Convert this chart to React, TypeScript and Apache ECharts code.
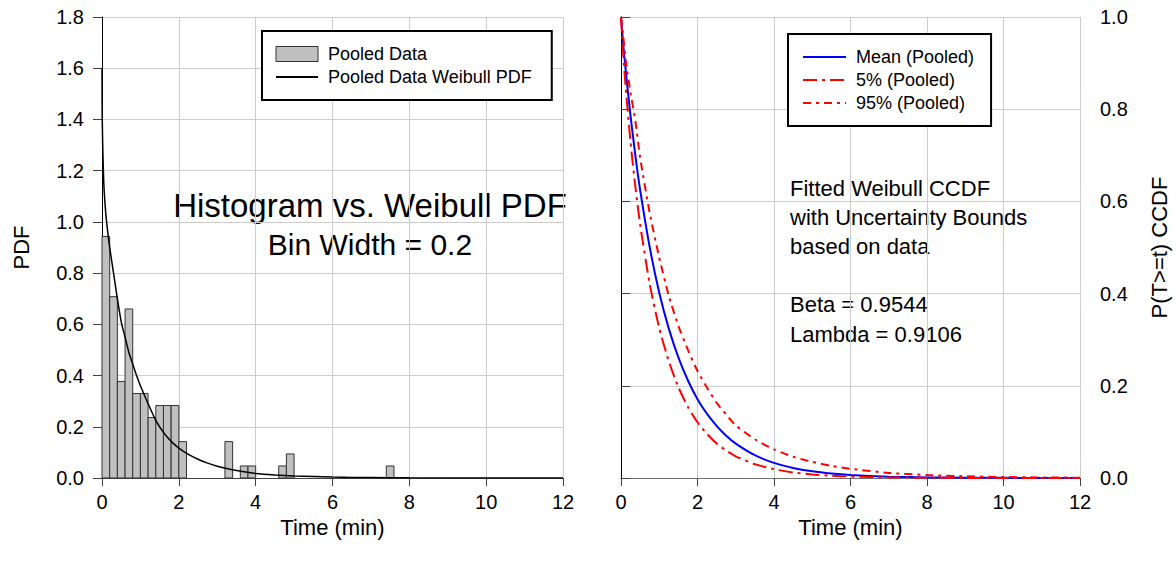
import React, { useEffect, useRef } from "react";
import * as echarts from "echarts";

const FONT = "'Liberation Sans', Arial, Helvetica, sans-serif";

// Histogram (bin width 0.2) – left edge of bin and density
const BIN_WIDTH = 0.2;
const binStarts = [0, 0.2, 0.4, 0.6, 0.8, 1.0, 1.2, 1.4, 1.6, 1.8, 2.0, 3.2, 3.6, 3.8, 4.6, 4.8, 7.4];
const binDensity = [0.943, 0.708, 0.377, 0.660, 0.330, 0.330, 0.236, 0.283, 0.283, 0.283, 0.142, 0.142, 0.047, 0.047, 0.047, 0.094, 0.047];

// Weibull PDF curve
const pdfT = [0, 0.005, 0.02, 0.05, 0.1, 0.15, 0.2, 0.3, 0.4, 0.5, 0.6, 0.7, 0.8, 0.9, 1.0, 1.2, 1.4, 1.6, 1.8, 2.0, 2.25, 2.5, 2.75, 3.0, 3.5, 4.0, 4.5, 5.0, 6.0, 7.0, 8.0, 10, 12];
const pdfV = [1.6, 1.42, 1.29, 1.14, 1.03, 0.96, 0.9, 0.8, 0.7, 0.61, 0.55, 0.49, 0.445, 0.4, 0.36, 0.29, 0.225, 0.178, 0.143, 0.117, 0.092, 0.073, 0.058, 0.046, 0.029, 0.018, 0.012, 0.008, 0.0035, 0.0016, 0.0007, 0.0002, 0.00005];

// CCDF curves
const ccdfT = [0, 0.05, 0.125, 0.25, 0.375, 0.5, 0.75, 1, 1.25, 1.5, 1.75, 2, 2.25, 2.5, 2.75, 3, 3.5, 4, 4.5, 5, 5.5, 6, 7, 8, 9, 10, 11, 12];
const ccdfMean = [1, 0.949, 0.883, 0.785, 0.7, 0.625, 0.501, 0.402, 0.324, 0.2615, 0.2115, 0.171, 0.139, 0.113, 0.0915, 0.0746, 0.0494, 0.0328, 0.0218, 0.0145, 0.0097, 0.0065, 0.0029, 0.0013, 0.0006, 0.0003, 0.00013, 0.00006];
const ccdf5 = [1, 0.929, 0.845, 0.728, 0.632, 0.55, 0.421, 0.325, 0.253, 0.197, 0.154, 0.121, 0.0953, 0.075, 0.0594, 0.047, 0.03, 0.019, 0.012, 0.0077, 0.005, 0.0032, 0.0013, 0.0006, 0.0002, 0.0001, 0.00005, 0.00002];
const ccdf95 = [1, 0.965, 0.905, 0.835, 0.775, 0.695, 0.575, 0.478, 0.395, 0.33, 0.278, 0.232, 0.196, 0.163, 0.138, 0.114, 0.084, 0.062, 0.046, 0.035, 0.026, 0.02, 0.011, 0.0065, 0.0037, 0.0021, 0.0012, 0.0007];

const xTicks = { min: 0, max: 12, interval: 2 };
const leftY = { min: 0, max: 1.8, interval: 0.2 };
const rightY = { min: 0, max: 1, interval: 0.2 };

const leftNotes = ["Histogram vs. Weibull PDF", "Bin Width = 0.2"];
const rightNotes = ["Fitted Weibull CCDF", "with Uncertainty Bounds", "based on data", "", "Beta = 0.9544", "Lambda = 0.9106"];

const zip = (a: number[], b: number[]) => a.map((v, i) => [v, b[i]]);

export default function App() {
  const ref = useRef<HTMLDivElement>(null);
  useEffect(() => {
    if (!ref.current) return;
    const chart = echarts.init(ref.current, undefined, { renderer: "svg" });
    const gridLine = { show: true, lineStyle: { color: "#cccccc", width: 1 } };
    const tickLabel = { fontSize: 20, color: "#000", fontFamily: FONT };
    const nameStyle = { fontSize: 22, color: "#000", fontFamily: FONT };
    const noSymbol = { color: "rgba(0,0,0,0)", borderWidth: 0, opacity: 0 };
    const xAxisBase = (gridIndex: number) => ({
      gridIndex,
      type: "value",
      ...xTicks,
      axisLine: { show: true, onZero: false, lineStyle: { color: "#404040", width: 1 } },
      axisTick: { show: true, length: 8, lineStyle: { color: "#404040" } },
      axisLabel: { ...tickLabel, margin: 14 },
      splitLine: gridLine,
      name: "Time (min)",
      nameLocation: "middle",
      nameGap: 27,
      nameTextStyle: nameStyle,
    });
    const option: any = {
      animation: false,
      backgroundColor: "#fff",
      grid: [
        { left: 102, top: 17, width: 461, height: 461 },
        { left: 621, top: 17, width: 459, height: 461 },
      ],
      xAxis: [
        xAxisBase(0),
        xAxisBase(1),
        {
          gridIndex: 1, type: "value", position: "top", ...xTicks,
          axisLine: { show: true, lineStyle: { color: "#707070" } },
          axisTick: { show: false }, axisLabel: { show: false }, splitLine: { show: false },
        },
      ],
      yAxis: [
        {
          gridIndex: 0, type: "value", ...leftY,
          axisLine: { show: true, lineStyle: { color: "#000", width: 1 } },
          axisTick: { show: true, length: 9, lineStyle: { color: "#404040" } },
          axisLabel: { ...tickLabel, margin: 18, formatter: (v: number) => v.toFixed(1) },
          splitLine: gridLine,
          name: "PDF", nameLocation: "middle", nameGap: 70, nameRotate: 90, nameTextStyle: nameStyle,
        },
        {
          gridIndex: 1, type: "value", position: "right", ...rightY,
          axisLine: { show: true, lineStyle: { color: "#000", width: 1 } },
          axisTick: { show: true, length: 9, lineStyle: { color: "#404040" } },
          axisLabel: { ...tickLabel, margin: 20, formatter: (v: number) => v.toFixed(1) },
          splitLine: gridLine,
          name: "P(T>=t) CCDF", nameLocation: "middle", nameGap: 68, nameRotate: 90, nameTextStyle: nameStyle,
        },
        {
          gridIndex: 1, type: "value", position: "left", ...rightY,
          axisLine: { show: true, lineStyle: { color: "#000", width: 1 } },
          axisTick: { show: false }, axisLabel: { show: false }, splitLine: { show: false },
        },
      ],
      legend: [
        {
          data: [
            { name: "Pooled Data", icon: "rect", itemStyle: { color: "#c0c0c0", borderColor: "#333", borderWidth: 1 } },
            { name: "Pooled Data Weibull PDF", itemStyle: noSymbol },
          ],
          orient: "vertical", left: 262, top: 31,
          backgroundColor: "#fff", borderColor: "#000", borderWidth: 2,
          padding: [14, 20, 14, 13], itemWidth: 42, itemHeight: 15, itemGap: 5,
          textStyle: { fontSize: 18, lineHeight: 18, color: "#000", fontFamily: FONT, padding: [0, 0, 0, 5] },
        },
        {
          data: [
            { name: "Mean (Pooled)", itemStyle: noSymbol },
            { name: "5% (Pooled)", itemStyle: noSymbol },
            { name: "95% (Pooled)", itemStyle: noSymbol },
          ],
          orient: "vertical", left: 788, top: 34,
          backgroundColor: "#fff", borderColor: "#000", borderWidth: 2,
          padding: [14, 17, 14, 14], itemWidth: 43, itemHeight: 15, itemGap: 5,
          textStyle: { fontSize: 18, lineHeight: 18, color: "#000", fontFamily: FONT, padding: [0, 0, 0, 5] },
        },
      ],
      graphic: [
        ...leftNotes.map((t, i) => ({
          type: "text",
          style: { text: t, x: 370, y: 205 + i * 39, fill: "#000", font: `${i === 0 ? 33 : 30}px ${FONT}`, textAlign: "center", textVerticalAlign: "middle" },
        })),
        ...rightNotes.map((t, i) => ({
          type: "text",
          style: { text: t, x: 790, y: 188 + i * 29.2, fill: "#000", font: `22px ${FONT}`, textAlign: "left", textVerticalAlign: "middle" },
        })),
      ],
      series: [
        {
          name: "Pooled Data", type: "custom", xAxisIndex: 0, yAxisIndex: 0,
          data: zip(binStarts, binDensity),
          encode: { x: 0, y: 1 },
          itemStyle: { color: "#c0c0c0", borderColor: "#333" },
          renderItem: (_p: any, api: any) => {
            const x0 = api.value(0);
            const h = api.value(1);
            const a = api.coord([x0, h]);
            const b = api.coord([x0 + BIN_WIDTH, 0]);
            return {
              type: "rect",
              shape: { x: a[0], y: a[1], width: b[0] - a[0], height: b[1] - a[1] },
              style: { fill: "#c0c0c0", stroke: "#333", lineWidth: 1 },
            };
          },
        },
        {
          name: "Pooled Data Weibull PDF", type: "line", xAxisIndex: 0, yAxisIndex: 0,
          data: zip(pdfT, pdfV), symbol: "none", smooth: 0.2,
          lineStyle: { color: "#000", width: 1.5 }, itemStyle: { color: "#000" },
        },
        {
          name: "Mean (Pooled)", type: "line", xAxisIndex: 1, yAxisIndex: 1,
          data: zip(ccdfT, ccdfMean), symbol: "none", smooth: 0.2,
          lineStyle: { color: "#0000ff", width: 2 }, itemStyle: { color: "#0000ff" },
        },
        {
          name: "5% (Pooled)", type: "line", xAxisIndex: 1, yAxisIndex: 1,
          data: zip(ccdfT, ccdf5), symbol: "none", smooth: 0.2,
          lineStyle: { color: "#ff0000", width: 2, type: [14, 5, 3, 5] }, itemStyle: { color: "#ff0000" },
        },
        {
          name: "95% (Pooled)", type: "line", xAxisIndex: 1, yAxisIndex: 1,
          data: zip(ccdfT, ccdf95), symbol: "none", smooth: 0.2,
          lineStyle: { color: "#ff0000", width: 2, type: [8, 5, 3, 5] }, itemStyle: { color: "#ff0000" },
        },
      ],
    };
    chart.setOption(option);
    return () => chart.dispose();
  }, []);
  return (
    <div
      ref={ref}
      style={{ position: "fixed", left: 0, top: 0, width: "1176px", height: "567px", background: "#fff" }}
    />
  );
}
